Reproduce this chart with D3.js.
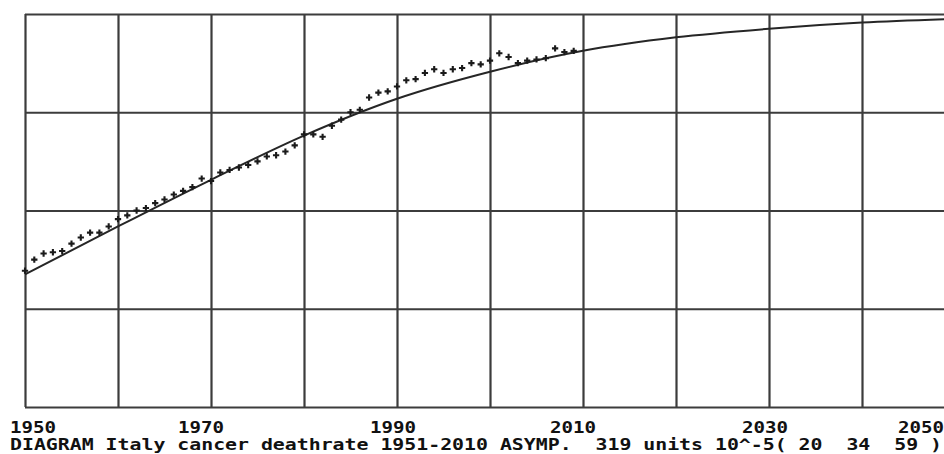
<!DOCTYPE html>
<html>
<head>
<meta charset="utf-8">
<script src="https://cdn.jsdelivr.net/npm/d3@7"></script>
<style>
  html, body { margin: 0; padding: 0; background: #fff; }
  svg { display: block; }
  .lbl { font-family: "DejaVu Sans Mono", "Liberation Mono", monospace; font-weight: bold; font-size: 16px; fill: #111; white-space: pre; }
</style>
</head>
<body>
<div id="chart"></div>
<script>
// ─── Data ─────────────────────────────────────
// observed death rate (units 10^-5), one point per year
const years = d3.range(1951, 2011);
const rates = [
  111, 120, 125, 126, 127, 133, 138, 142, 142, 147,
  153, 156, 160, 162, 166, 169, 173, 176, 179, 186,
  184, 191, 193, 195, 197, 200, 204, 205, 208, 213,
  222, 222, 220, 229, 234, 240, 242, 252, 256, 257,
  261, 266, 267, 272, 275, 272, 275, 276, 280, 279,
  282, 288, 285, 280, 282, 283, 284, 292, 289, 290
];

// fitted asymptotic curve, read at each decade
const fitYears = [1950, 1960, 1970, 1980, 1990, 2000, 2010, 2020, 2030, 2040, 2050];
const fitRates = [108, 147, 185, 221, 251, 273, 290, 301, 308, 313, 316];

const gridYears  = d3.range(1950, 2051, 10);
const labelYears = [1950, 1970, 1990, 2010, 2030, 2050];
const gridRates  = [0, 80, 160, 240, 320];

const caption = 'DIAGRAM Italy cancer deathrate 1951-2010 ASYMP.  319 units 10^-5( 20  34  59 )';

// ─── Layout ──────────────────────────────────
const W = 944, H = 454,
      plotL = 25, plotT = 14, plotB = 407,
      cell = 12, textX = 10;   // labels sit on a 12px character grid

const svg = d3.select('#chart').append('svg').attr('width', W).attr('height', H);

const x = d3.scaleLinear().domain([1950, 2050]).range([plotL, plotL + 930]),
      y = d3.scaleLinear().domain([0, 320]).range([plotB, plotT]);

// grid
const g = svg.append('g');
g.append('g')
  .attr('transform', `translate(0,${plotB})`)
  .call(d3.axisBottom(x).tickValues(gridYears).tickSize(-(plotB - plotT)).tickFormat(''))
  .call(a => a.select('.domain').remove());
g.append('g')
  .attr('transform', `translate(${plotL},0)`)
  .call(d3.axisLeft(y).tickValues(gridRates).tickSize(-(W - plotL + 20)).tickFormat(''))
  .call(a => a.select('.domain').remove());
g.selectAll('.tick line').attr('stroke', '#3c3c3c').attr('stroke-width', 2.2);

// fitted curve
const line = d3.line()
  .x((d, i) => x(fitYears[i]))
  .y(d => y(d))
  .curve(d3.curveMonotoneX);
svg.append('path')
  .datum(fitRates)
  .attr('d', line)
  .attr('fill', 'none')
  .attr('stroke', '#262626')
  .attr('stroke-width', 2);

// observed points (each plotted at the start of its year interval)
svg.append('g').selectAll('path')
  .data(rates)
  .enter().append('path')
    .attr('transform', (d, i) => `translate(${x(years[i] - 1)},${y(d)})`)
    .attr('d', d3.symbol(d3.symbolCross).size(22))
    .attr('fill', '#1a1a1a');

// year labels snapped to character cells
const maxCol = Math.floor((W - textX) / cell) - 4 + 1;
svg.append('g').selectAll('text')
  .data(labelYears)
  .enter().append('text')
    .attr('class', 'lbl')
    .attr('x', d => {
      const col = Math.max(0, Math.min(maxCol, Math.floor((x(d) - textX) / cell) - 2));
      return textX + col * cell;
    })
    .attr('y', 433)
    .attr('textLength', 4 * cell - 2)
    .attr('lengthAdjust', 'spacingAndGlyphs')
    .text(d => d);

svg.append('text')
  .attr('class', 'lbl')
  .attr('x', textX)
  .attr('y', 450)
  .style('font-size', '15px')
  .attr('textLength', caption.length * cell - 4)
  .attr('lengthAdjust', 'spacingAndGlyphs')
  .text(caption);
</script>
</body>
</html>
